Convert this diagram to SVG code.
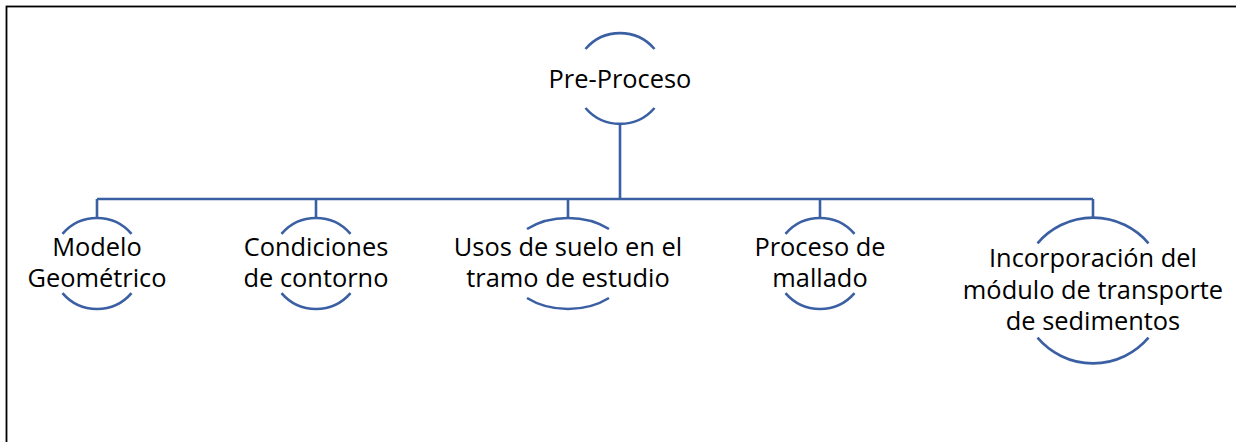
<svg xmlns="http://www.w3.org/2000/svg" width="1236" height="442" viewBox="0 0 1236 442">
<style>
.arc{fill:none;stroke:#3b5fa3;stroke-width:2.6;}
.con{fill:none;stroke:#3b5fa3;stroke-width:2.6;}
.t{font-family:"Open Sans","Liberation Sans",sans-serif;font-size:25.4px;fill:#000;text-anchor:middle;}
</style>
<rect x="0" y="0" width="1236" height="442" fill="#fff"/>
<rect x="6.5" y="6.5" width="1250" height="460" fill="#fff" stroke="#000" stroke-width="1.8"/>
<g id="connectors">
<path class="con" d="M620 124 V199 M97 199 H1093 M97 199 V218 M316 199 V218 M568 199 V218 M820 199 V218 M1093 199 V218"/>
</g>
<g id="node-preproceso">
<path class="arc" d="M585.5 49 A45.5 45.5 0 0 1 654.5 49"/>
<path class="arc" d="M585.5 108 A45.5 45.5 0 0 0 654.5 108"/>
<text class="t" x="620" y="88">Pre-Proceso</text>
</g>
<g id="node-modelo">
<path class="arc" d="M62.5 233.8 A45.5 45.5 0 0 1 131.5 233.8"/>
<path class="arc" d="M62.5 293.2 A45.5 45.5 0 0 0 131.5 293.2"/>
<text class="t" x="97" y="256">Modelo</text>
<text class="t" x="97" y="287">Geométrico</text>
</g>
<g id="node-condiciones">
<path class="arc" d="M281.5 233.8 A45.5 45.5 0 0 1 350.5 233.8"/>
<path class="arc" d="M281.5 293.2 A45.5 45.5 0 0 0 350.5 293.2"/>
<text class="t" x="316" y="256">Condiciones</text>
<text class="t" x="316" y="287">de contorno</text>
</g>
<g id="node-usos">
<path class="arc" d="M527 229 A62.9 45.5 0 0 1 609 229"/>
<path class="arc" d="M527 298 A62.9 45.5 0 0 0 609 298"/>
<text class="t" x="568" y="256">Usos de suelo en el</text>
<text class="t" x="568" y="287">tramo de estudio</text>
</g>
<g id="node-proceso">
<path class="arc" d="M785.5 233.8 A45.5 45.5 0 0 1 854.5 233.8"/>
<path class="arc" d="M785.5 293.2 A45.5 45.5 0 0 0 854.5 293.2"/>
<text class="t" x="820" y="256">Proceso de</text>
<text class="t" x="820" y="287">mallado</text>
</g>
<g id="node-incorporacion">
<path class="arc" d="M1037.5 243.3 A72.8 72.8 0 0 1 1148.5 243.3"/>
<path class="arc" d="M1037.5 337.7 A72.8 72.8 0 0 0 1148.5 337.7"/>
<text class="t" x="1093" y="267">Incorporación del</text>
<text class="t" x="1093" y="299">módulo de transporte</text>
<text class="t" x="1093" y="330">de sedimentos</text>
</g>
</svg>
